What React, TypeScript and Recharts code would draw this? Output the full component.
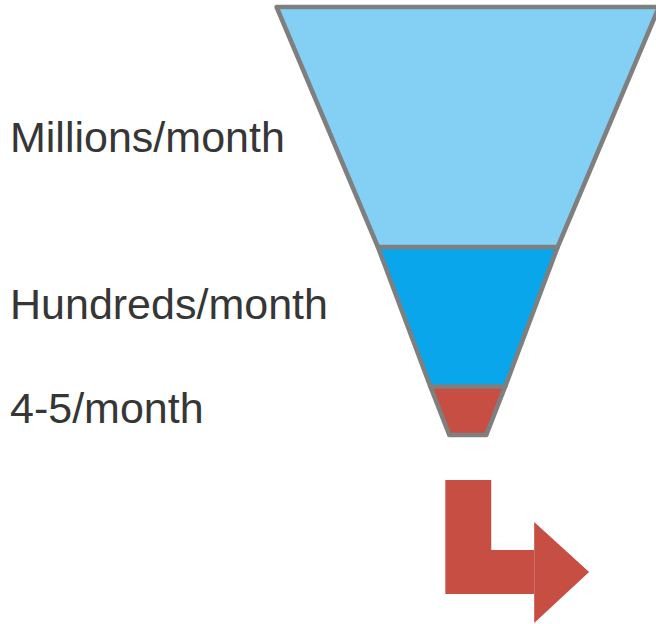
import { Area, ComposedChart, ReferenceLine, XAxis, YAxis } from "recharts"

const stageLabels = ["Millions/month", "Hundreds/month", "4-5/month"]
const stageLabelDepth = [137, 304, 408]
const stageColors = ["#84d0f5", "#0aa6eb", "#c74e42"]

// funnel outline: depth of each stage boundary and the funnel width there
const funnelDepth = [7, 247, 386.5, 435]
const funnelWidth = [383, 180, 75, 37]
const funnelCenter = 467.5

// bent arrow below the funnel: depth and [left, right] span
const arrowStemDepth = [480, 550, 550, 594]
const arrowStemSpan = [[445, 491], [445, 491], [445, 534], [445, 534]]
const arrowHeadDepth = [522, 572, 623]
const arrowHeadSpan = [[534, 534], [534, 589], [534, 534]]

const outline = "#7f7f7f"
const arrowColor = "#c74e42"

const spanAt = (i: number) => [funnelCenter - funnelWidth[i] / 2, funnelCenter + funnelWidth[i] / 2]

const stageData = stageLabels.map((_, i) => [
  { depth: funnelDepth[i], span: spanAt(i) },
  { depth: funnelDepth[i + 1], span: spanAt(i + 1) },
])

const arrowStem = arrowStemDepth.map((depth, i) => ({ depth, span: arrowStemSpan[i] }))
const arrowHead = arrowHeadDepth.map((depth, i) => ({ depth, span: arrowHeadSpan[i] }))

function StageTick(props: any) {
  const { y, payload } = props
  const idx = stageLabelDepth.indexOf(Number(payload?.value))
  return (
    <text x={10} y={y} dy="0.355em" textAnchor="start" fontSize={43} fill="#363636" fontFamily="'Liberation Sans', Arial, sans-serif">
      {idx >= 0 ? stageLabels[idx] : ""}
    </text>
  )
}

export default function App() {
  return (
    <div style={{ position: "absolute", left: 0, top: 0 }}>
      <ComposedChart width={656} height={624} layout="vertical" margin={{ top: 0, right: 0, bottom: 0, left: -1 }}>
        <XAxis type="number" domain={[-1, 656]} allowDataOverflow hide />
        <YAxis
          type="number"
          dataKey="depth"
          domain={[0, 624]}
          allowDataOverflow
          width={1}
          ticks={stageLabelDepth}
          interval={0}
          axisLine={false}
          tickLine={false}
          tick={(p: any) => <StageTick {...p} />}
        />
        {stageData.map((d, i) => (
          <Area
            key={stageLabels[i]}
            data={d}
            dataKey="span"
            type="linear"
            fill={stageColors[i]}
            fillOpacity={1}
            stroke={outline}
            strokeWidth={4.5}
            dot={false}
            activeDot={false}
            isAnimationActive={false}
          />
        ))}
        {funnelDepth.map((depth, i) => {
          const [x1, x2] = spanAt(i)
          return (
            <ReferenceLine
              key={depth}
              segment={[{ x: x1, y: depth }, { x: x2, y: depth }]}
              stroke={outline}
              strokeWidth={4.5}
              strokeLinecap="round"
              ifOverflow="visible"
            />
          )
        })}
        <Area data={arrowStem} dataKey="span" type="linear" fill={arrowColor} fillOpacity={1} stroke="none" dot={false} activeDot={false} isAnimationActive={false} />
        <Area data={arrowHead} dataKey="span" type="linear" fill={arrowColor} fillOpacity={1} stroke="none" dot={false} activeDot={false} isAnimationActive={false} />
      </ComposedChart>
    </div>
  )
}
